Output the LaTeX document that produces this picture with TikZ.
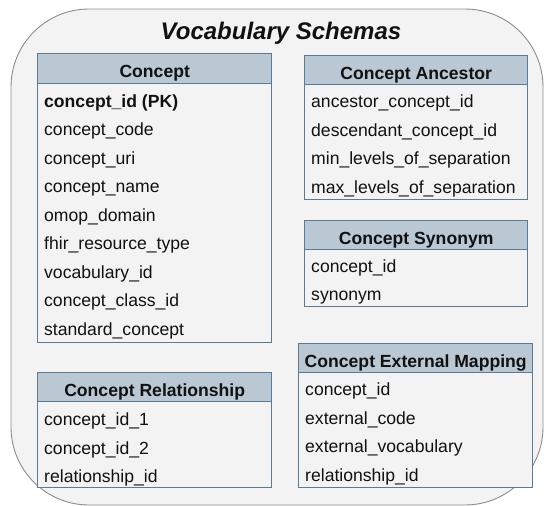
\documentclass[tikz,border=0pt]{standalone}
\usepackage{fontspec}
\setmainfont{Liberation Sans}
\definecolor{panelfill}{HTML}{F3F3F3}
\definecolor{panelline}{HTML}{8C8C8C}
\definecolor{headfill}{HTML}{B9C8D3}
\definecolor{tableline}{HTML}{5B7A94}
\definecolor{ink}{HTML}{111111}
\tikzset{
  panel/.style={draw=panelline, fill=panelfill, line width=0.9pt, rounded corners=78pt},
  headbox/.style={draw=tableline, fill=headfill, line width=1.4pt, anchor=north west,
    inner sep=0pt, text height=18.6pt, text depth=0pt,
    font=\fontsize{17.6}{20}\selectfont\bfseries, text=ink},
  bodybox/.style={draw=tableline, fill=panelfill, line width=1.2pt, anchor=north west, inner sep=0pt},
  field/.style={anchor=base west, inner xsep=7pt, inner ysep=0pt,
    font=\fontsize{17.6}{20}\selectfont, text=ink},
  titletext/.style={anchor=base, inner sep=0pt, font=\fontsize{24}{28}\selectfont\bfseries\itshape, text=ink}
}
% \dbtable{id}{left}{top}{right}{header bottom}{bottom}{title}{first baseline}{fields}
\newcommand{\dbtable}[9]{%
  \node[bodybox, minimum width={(#4-#2)*1pt}, minimum height={(#6-#5)*1pt}] (#1-body) at (#2,-#5) {};
  \node[headbox, minimum width={(#4-#2)*1pt}, minimum height={(#5-#3)*1pt}] (#1-head) at (#2,-#3) {#7};
  \foreach \txt [count=\k] in {#9} {
    \node[field] (#1-row\k) at ({#2}, {-(#8+(\k-1)*28.5)}) {\txt};
  }%
}
\begin{document}
\begin{tikzpicture}[x=1pt, y=1pt]
\useasboundingbox (0,0) rectangle (544,-506);
\fill[white] (0,0) rectangle (544,-506);
\draw[panel] (11,-9) rectangle (543,-505);
\node[titletext] (title) at (281,-39) {Vocabulary Schemas};

\dbtable{concept}{37}{53}{271}{82.5}{342}{Concept}{107.3}{%
  {\bfseries concept\_id (PK)}, concept\_code, concept\_uri, concept\_name, omop\_domain,
  fhir\_resource\_type, vocabulary\_id, concept\_class\_id, standard\_concept}

\dbtable{rel}{37}{372}{271}{401}{487}{Concept Relationship}{425.5}{%
  concept\_id\_1, concept\_id\_2, relationship\_id}

\dbtable{anc}{304}{55}{527}{84}{199}{Concept Ancestor}{107.5}{%
  ancestor\_concept\_id, descendant\_concept\_id, min\_levels\_of\_separation, max\_levels\_of\_separation}

\dbtable{syn}{304}{220}{527}{249}{306}{Concept Synonym}{272.3}{%
  concept\_id, synonym}

\dbtable{ext}{298}{343}{532}{372}{487}{Concept External Mapping}{395.5}{%
  concept\_id, external\_code, external\_vocabulary, relationship\_id}
\end{tikzpicture}
\end{document}
